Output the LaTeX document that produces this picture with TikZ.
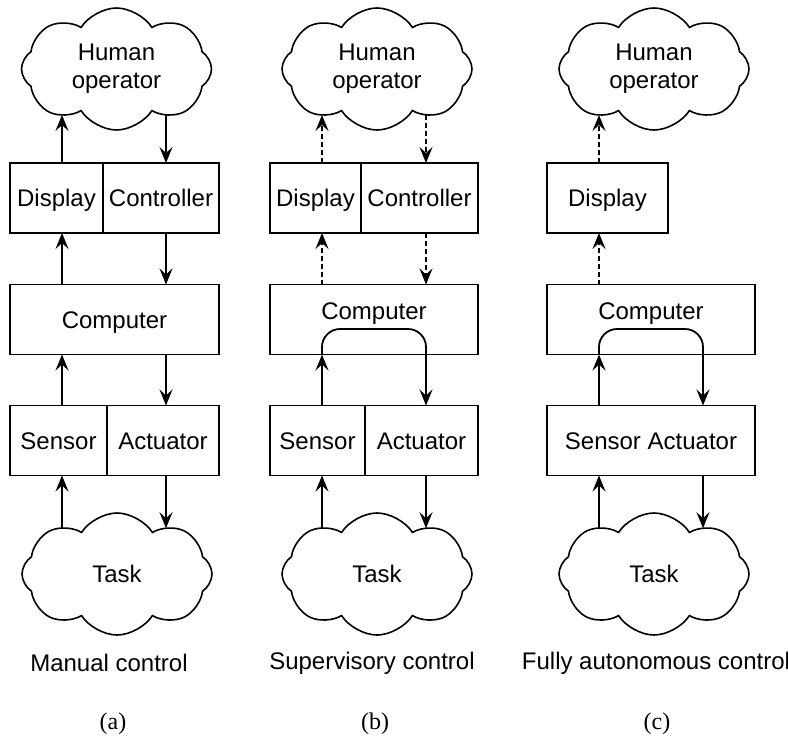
\documentclass[tikz,border=0pt]{standalone}
\usepackage{fontspec}
\setmainfont{Liberation Sans}
\newfontfamily\capfont{Liberation Serif}
\usetikzlibrary{shapes.symbols,arrows.meta,intersections}

\tikzset{
	every node/.style={font=\fontsize{12}{14}\selectfont},
	blk/.style={draw, line width=0.8pt, rectangle, minimum height=35pt, inner sep=0pt, outer sep=0pt,
		text height=8.6pt, text depth=0pt},
	high/.style={text depth=8.6pt},
	puff/.style={draw, line width=0.8pt, cloud, cloud puffs=8, cloud puff arc=115, aspect=1.6,
		minimum width=95pt, minimum height=61pt, inner sep=0pt, align=center},
	flow/.style={line width=0.9pt, -{Stealth[length=8pt,width=6.5pt,inset=3pt]}},
	dflow/.style={flow, dash pattern=on 2.5pt off 1.5pt},
	tag/.style={font=\capfont\fontsize{12}{14}\selectfont},
}

\begin{document}
\begin{tikzpicture}[x=0.5pt, y=-0.5pt]
	\useasboundingbox (0,0) rectangle (788,740);

	% (a) manual control
	\node [puff, name path=opA] (opA) at (116.5,69) {Human\\operator};
	\node [blk, minimum width=46.5pt] (dispA) at (56.5,198) {Display};
	\node [blk, minimum width=58pt] (ctrlA) at (161,198) {Controller};
	\node [blk, minimum width=104.5pt] (compA) at (114.5,319.5) {Computer};
	\node [blk, minimum width=48.5pt] (sensA) at (58.5,440.5) {Sensor};
	\node [blk, minimum width=56pt] (actA) at (163,440.5) {Actuator};
	\node [puff, name path=taskA] (taskA) at (117,574) {Task};
	\node (capA) at (109,663) {Manual control};
	\node [tag] (tagA) at (113,724) {(a)};

	\path [name path=gA1] (62,0) -- (62,740);
	\path [name path=gA2] (166,0) -- (166,740);
	\draw [flow, name intersections={of=gA1 and opA, sort by=gA1}] (62,0 |- dispA.north) -- (intersection-2);
	\draw [flow, name intersections={of=gA2 and opA, sort by=gA2}] (intersection-2) -- (166,0 |- ctrlA.north);
	\draw [flow] (62,0 |- compA.north) -- (62,0 |- dispA.south);
	\draw [flow] (166,0 |- ctrlA.south) -- (166,0 |- compA.north);
	\draw [flow] (62,0 |- sensA.north) -- (62,0 |- compA.south);
	\draw [flow] (166,0 |- compA.south) -- (166,0 |- actA.north);
	\draw [flow, name intersections={of=gA1 and taskA, sort by=gA1}] (intersection-1) -- (62,0 |- sensA.south);
	\draw [flow, name intersections={of=gA2 and taskA, sort by=gA2}] (166,0 |- actA.south) -- (intersection-1);

	% (b) supervisory control
	\node [puff, name path=opB] (opB) at (377,69) {Human\\operator};
	\node [blk, minimum width=45.5pt] (dispB) at (315.5,198) {Display};
	\node [blk, minimum width=58.5pt] (ctrlB) at (419.5,198) {Controller};
	\node [blk, high, minimum width=104pt] (compB) at (374,319.5) {Computer};
	\node [blk, minimum width=47.5pt] (sensB) at (317.5,440.5) {Sensor};
	\node [blk, minimum width=56.5pt] (actB) at (421.5,440.5) {Actuator};
	\node [puff, name path=taskB] (taskB) at (377,574) {Task};
	\node (capB) at (372,663) {Supervisory control};
	\node [tag] (tagB) at (375,724) {(b)};

	\path [name path=gB1] (322,0) -- (322,740);
	\path [name path=gB2] (426,0) -- (426,740);
	\draw [dflow, name intersections={of=gB1 and opB, sort by=gB1}] (322,0 |- dispB.north) -- (intersection-2);
	\draw [dflow, name intersections={of=gB2 and opB, sort by=gB2}] (intersection-2) -- (426,0 |- ctrlB.north);
	\draw [dflow] (322,0 |- compB.north) -- (322,0 |- dispB.south);
	\draw [dflow] (426,0 |- ctrlB.south) -- (426,0 |- compB.north);
	\draw [flow] (322,0 |- sensB.north) -- (322,0 |- compB.south);
	\draw [flow, rounded corners=9pt] (322,0 |- compB.south) |- (374,329) -| (426,0 |- actB.north);
	\draw [flow, name intersections={of=gB1 and taskB, sort by=gB1}] (intersection-1) -- (322,0 |- sensB.south);
	\draw [flow, name intersections={of=gB2 and taskB, sort by=gB2}] (426,0 |- actB.south) -- (intersection-1);

	% (c) fully autonomous control
	\node [puff, name path=opC] (opC) at (654,69) {Human\\operator};
	\node [blk, minimum width=60.5pt] (dispC) at (607.5,198) {Display};
	\node [blk, high, minimum width=104pt] (compC) at (651,319.5) {Computer};
	\node [blk, minimum width=104pt] (saC) at (651,440.5) {Sensor Actuator};
	\node [puff, name path=taskC] (taskC) at (654,574) {Task};
	\node (capC) at (656,663) {Fully autonomous control};
	\node [tag] (tagC) at (657,724) {(c)};

	\path [name path=gC1] (599,0) -- (599,740);
	\path [name path=gC2] (703,0) -- (703,740);
	\draw [dflow, name intersections={of=gC1 and opC, sort by=gC1}] (599,0 |- dispC.north) -- (intersection-2);
	\draw [dflow] (599,0 |- compC.north) -- (599,0 |- dispC.south);
	\draw [flow] (599,0 |- saC.north) -- (599,0 |- compC.south);
	\draw [flow, rounded corners=9pt] (599,0 |- compC.south) |- (651,329) -| (703,0 |- saC.north);
	\draw [flow, name intersections={of=gC1 and taskC, sort by=gC1}] (intersection-1) -- (599,0 |- saC.south);
	\draw [flow, name intersections={of=gC2 and taskC, sort by=gC2}] (703,0 |- saC.south) -- (intersection-1);
\end{tikzpicture}
\end{document}
